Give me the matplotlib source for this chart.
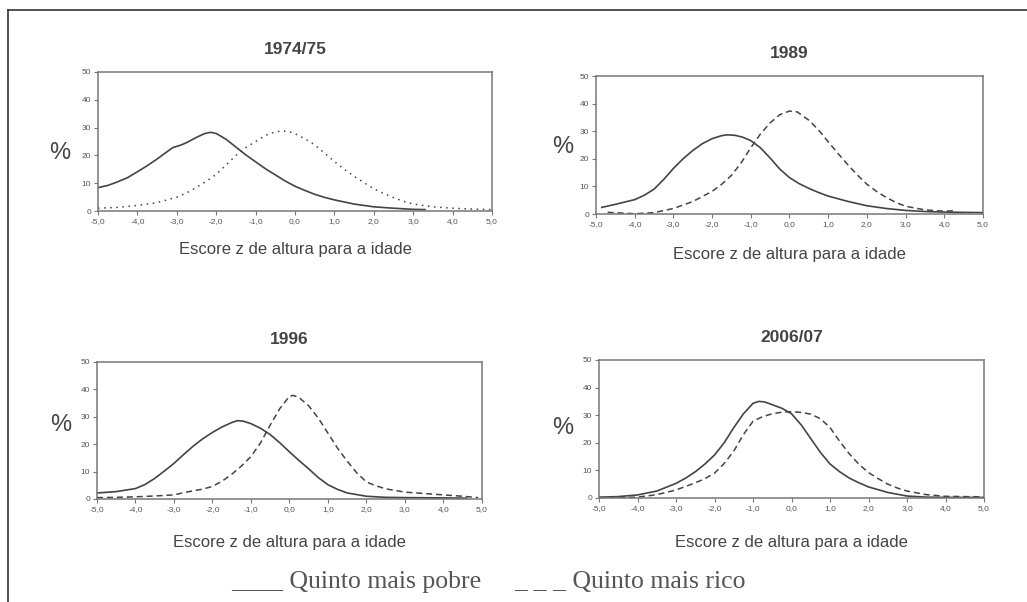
import matplotlib.pyplot as plt
from matplotlib.lines import Line2D

plt.rcParams.update({"font.family": ["Liberation Sans", "DejaVu Sans"]})

# dados (escore z, % de crianças)
titulos = ["1974/75", "1989", "1996", "2006/07"]
x_ticks = [-5, -4, -3, -2, -1, 0, 1, 2, 3, 4, 5]
x_tick_labels = ["-5,0", "-4,0", "-3,0", "-2,0", "-1,0", "0,0", "1,0", "2,0", "3,0", "4,0", "5,0"]
y_ticks = [0, 10, 20, 30, 40, 50]

# 1974/75
pobre_7475_x = [-5.0, -4.75, -4.5, -4.25, -4.0, -3.75, -3.5, -3.25, -3.1, -2.9, -2.75, -2.5, -2.3, -2.15,
                -2.0, -1.75, -1.5, -1.25, -1.0, -0.75, -0.5, -0.25, 0.0, 0.25, 0.5, 0.75, 1.0, 1.5, 2.0,
                2.5, 3.0, 3.3]
pobre_7475_y = [8.4, 9.2, 10.5, 12.0, 14.1, 16.3, 18.7, 21.3, 22.8, 23.7, 24.6, 26.5, 27.8, 28.3,
                27.9, 25.8, 23.0, 20.2, 17.7, 15.2, 13.0, 10.8, 8.9, 7.4, 6.0, 4.9, 4.0, 2.5, 1.5,
                1.0, 0.6, 0.5]
rico_7475_x = [-5.0, -4.5, -4.0, -3.5, -3.0, -2.75, -2.5, -2.25, -2.0, -1.75, -1.5, -1.25, -1.0, -0.75,
               -0.5, -0.3, -0.1, 0.0, 0.25, 0.5, 0.75, 1.0, 1.25, 1.5, 1.75, 2.0, 2.25, 2.5, 2.75, 3.0,
               3.5, 4.0, 4.5, 5.0]
rico_7475_y = [1.0, 1.3, 2.0, 3.0, 5.0, 6.5, 8.5, 10.7, 13.2, 16.5, 20.0, 22.8, 25.0, 27.2,
               28.5, 28.8, 28.3, 27.8, 26.0, 23.8, 20.8, 17.8, 15.0, 12.5, 10.2, 8.0, 6.3, 4.8, 3.5, 2.5,
               1.5, 1.0, 0.7, 0.5]

# 1989
pobre_89_x = [-4.85, -4.5, -4.0, -3.75, -3.5, -3.25, -3.0, -2.75, -2.5, -2.25, -2.0, -1.75, -1.6, -1.4,
              -1.2, -1.0, -0.75, -0.5, -0.25, 0.0, 0.25, 0.5, 0.75, 1.0, 1.5, 2.0, 2.5, 3.0, 3.5, 4.0, 5.0]
pobre_89_y = [2.4, 3.5, 5.2, 6.8, 9.0, 12.5, 16.5, 20.0, 23.0, 25.5, 27.3, 28.4, 28.7, 28.5,
              27.8, 26.6, 24.0, 20.3, 16.3, 13.2, 11.0, 9.3, 7.8, 6.5, 4.6, 3.0, 2.0, 1.3, 0.9, 0.7, 0.5]
rico_89_x = [-4.7, -4.0, -3.5, -3.0, -2.5, -2.0, -1.75, -1.5, -1.25, -1.0, -0.75, -0.5, -0.25, 0.0,
             0.2, 0.5, 0.75, 1.0, 1.25, 1.5, 1.75, 2.0, 2.25, 2.5, 2.75, 3.0, 3.5, 4.0, 4.25]
rico_89_y = [0.6, 0.1, 0.5, 2.0, 4.5, 8.2, 10.8, 14.0, 18.5, 24.0, 29.0, 33.0, 36.0, 37.3,
             37.0, 34.0, 30.5, 26.2, 22.0, 18.0, 14.2, 10.8, 8.2, 6.0, 4.2, 2.8, 1.5, 1.0, 1.2]

# 1996
pobre_96_x = [-5.0, -4.5, -4.0, -3.75, -3.5, -3.25, -3.0, -2.75, -2.5, -2.25, -2.0, -1.75, -1.5, -1.35,
              -1.2, -1.0, -0.75, -0.5, -0.25, 0.0, 0.25, 0.5, 0.75, 1.0, 1.25, 1.5, 2.0, 2.5, 3.0, 4.0, 4.6]
pobre_96_y = [2.2, 2.7, 3.8, 5.3, 7.5, 10.2, 13.0, 16.2, 19.3, 22.0, 24.3, 26.3, 27.9, 28.6,
              28.4, 27.5, 25.8, 23.5, 20.5, 17.2, 14.0, 11.0, 7.8, 5.2, 3.5, 2.2, 1.0, 0.6, 0.5, 0.4, 0.3]
rico_96_x = [-5.0, -4.5, -4.0, -3.5, -3.0, -2.75, -2.5, -2.25, -2.0, -1.75, -1.5, -1.25, -1.0, -0.75,
             -0.5, -0.25, 0.0, 0.1, 0.25, 0.5, 0.75, 1.0, 1.25, 1.5, 1.75, 2.0, 2.25, 2.5, 3.0, 3.5,
             4.0, 4.5, 4.9]
rico_96_y = [0.5, 0.6, 0.8, 1.1, 1.5, 2.3, 3.0, 3.6, 4.6, 6.5, 9.0, 12.0, 15.5, 20.5,
             27.0, 33.0, 37.5, 37.8, 37.0, 34.0, 29.5, 24.0, 18.5, 13.8, 9.5, 6.2, 4.8, 3.7, 2.5, 2.0,
             1.5, 1.0, 0.5]

# 2006/07
pobre_0607_x = [-5.0, -4.5, -4.0, -3.5, -3.0, -2.75, -2.5, -2.25, -2.0, -1.75, -1.5, -1.25, -1.0, -0.85,
                -0.7, -0.5, -0.25, 0.0, 0.25, 0.5, 0.75, 1.0, 1.25, 1.5, 1.75, 2.0, 2.5, 3.0, 3.5, 4.0, 5.0]
pobre_0607_y = [0.3, 0.5, 1.1, 2.5, 5.3, 7.2, 9.5, 12.3, 15.6, 20.0, 25.5, 30.5, 34.3, 35.0,
                34.8, 33.8, 32.5, 30.5, 26.5, 21.5, 16.5, 12.3, 9.5, 7.2, 5.5, 4.0, 2.0, 0.7, 0.3, 0.2, 0.2]
rico_0607_x = [-5.0, -4.0, -3.5, -3.0, -2.5, -2.25, -2.0, -1.75, -1.5, -1.25, -1.0, -0.75, -0.5, -0.25,
               0.0, 0.25, 0.5, 0.75, 1.0, 1.25, 1.5, 1.75, 2.0, 2.25, 2.5, 2.75, 3.0, 3.5, 4.0, 5.0]
rico_0607_y = [0.0, 0.3, 1.2, 2.9, 5.5, 7.0, 9.0, 12.5, 17.0, 23.0, 27.8, 29.5, 30.5, 31.1,
               31.3, 31.0, 30.4, 28.7, 25.5, 20.5, 16.0, 12.2, 9.2, 7.0, 5.0, 3.6, 2.5, 1.2, 0.6, 0.4]

pobres = [(pobre_7475_x, pobre_7475_y), (pobre_89_x, pobre_89_y),
          (pobre_96_x, pobre_96_y), (pobre_0607_x, pobre_0607_y)]
ricos = [(rico_7475_x, rico_7475_y), (rico_89_x, rico_89_y),
         (rico_96_x, rico_96_y), (rico_0607_x, rico_0607_y)]

# posição dos painéis (fração da figura) e dos textos "%" e eixo x
caixas = [[0.0954, 0.6495, 0.3837, 0.2309],
          [0.5803, 0.6445, 0.3768, 0.2292],
          [0.0944, 0.1711, 0.3749, 0.2276],
          [0.5833, 0.1728, 0.3749, 0.2292]]
pos_pct = [(-0.096, 0.42), (-0.085, 0.486), (-0.094, 0.54), (-0.094, 0.507)]
pos_xlab = [-0.28, -0.297, -0.32, -0.326]
estilo_rico = [(0, (1, 3)), (0, (4, 2.5)), (0, (4, 2.5)), (0, (4, 2.5))]

cor_linha = "#444444"
cor_eixo = "#777777"
cor_texto = "#444444"

fig = plt.figure(figsize=(10.27, 6.02), dpi=100)

for i in range(4):
    ax = fig.add_axes(caixas[i])
    ax.plot(pobres[i][0], pobres[i][1], color=cor_linha, linewidth=1.2, linestyle="-")
    ax.plot(ricos[i][0], ricos[i][1], color=cor_linha, linewidth=1.1, linestyle=estilo_rico[i])
    ax.set_xlim(-5, 5)
    ax.set_ylim(0, 50)
    ax.set_xticks(x_ticks)
    ax.set_xticklabels(x_tick_labels)
    ax.set_yticks(y_ticks)
    ax.tick_params(axis="both", direction="out", length=3, width=0.8, color=cor_eixo,
                   labelsize=6, labelcolor="#555555", pad=2)
    for s in ax.spines.values():
        s.set_color(cor_eixo)
        s.set_linewidth(1.1)
    ax.set_title(titulos[i], fontsize=12.5, fontweight="bold", color=cor_texto, pad=13)
    ax.text(pos_pct[i][0], pos_pct[i][1], "%", transform=ax.transAxes, fontsize=17,
            color=cor_texto, ha="center", va="center")
    ax.text(0.5, pos_xlab[i], "Escore z de altura para a idade", transform=ax.transAxes,
            fontsize=12, color=cor_texto, ha="center", va="center")

# legenda em texto, como no original
fig.text(231 / 1027, 1 - 588 / 602, "____ Quinto mais pobre", fontsize=18.5,
         family=["Liberation Serif", "DejaVu Serif"], color="#555555", ha="left", va="baseline")
fig.text(514 / 1027, 1 - 588 / 602, "_ _ _ Quinto mais rico", fontsize=18.5,
         family=["Liberation Serif", "DejaVu Serif"], color="#555555", ha="left", va="baseline")

# moldura (só topo e lado esquerdo aparecem)
fig.add_artist(Line2D([8 / 1027, 1.0], [1 - 10 / 602, 1 - 10 / 602], color="#333333", linewidth=1.2))
fig.add_artist(Line2D([8 / 1027, 8 / 1027], [0.0, 1 - 10 / 602], color="#333333", linewidth=1.2))

fig.savefig("out.png", dpi=100)
